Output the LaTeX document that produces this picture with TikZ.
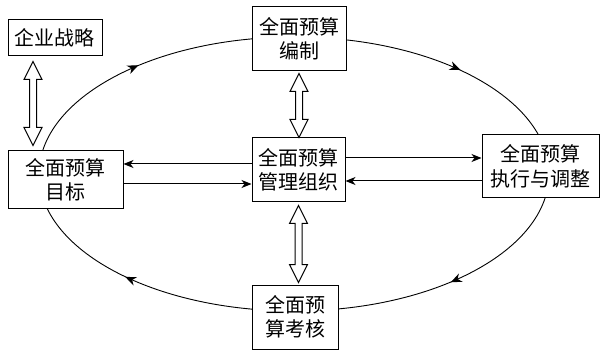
\documentclass[tikz,border=0pt]{standalone}
\usepackage{fontspec}
\setmainfont{Noto Sans CJK SC}
\usepackage{tikz}
\usetikzlibrary{arrows.meta, calc, backgrounds, decorations.markings}
\tikzset{
  box/.style={rectangle, draw=black, line width=1pt, fill=white, align=center, inner sep=1pt, font=\fontsize{20}{24.5}\selectfont},
  arrow/.style={-{Stealth[length=10pt, width=8pt, inset=3pt]}, line width=1pt},
  hollow/.style={draw=black, line width=1pt, fill=white, line join=miter},
}
% hollow double arrow between two stacked nodes
\newcommand{\updown}[2]{%
  \path[hollow] let \p1=(#1), \p2=(#2) in
    (\x1,\y1) -- (\x1+9pt,\y1-18pt) -- (\x1+3.5pt,\y1-18pt) -- (\x1+3.5pt,\y2+18pt)
    -- (\x1+9pt,\y2+18pt) -- (\x1,\y2) -- (\x1-9pt,\y2+18pt) -- (\x1-3.5pt,\y2+18pt)
    -- (\x1-3.5pt,\y1-18pt) -- (\x1-9pt,\y1-18pt) -- cycle;
}

\begin{document}
\begin{tikzpicture}[x=1pt, y=1pt,
  >={Stealth[length=11pt, width=9pt, inset=3.5pt]},
  cycleline/.style={line width=0.9pt, postaction={decorate}, decoration={markings,
    mark=at position 0.123 with {\arrow{<}},
    mark=at position 0.385 with {\arrow{<}},
    mark=at position 0.621 with {\arrow{<}},
    mark=at position 0.886 with {\arrow{<}}}}]
\useasboundingbox (0,0) rectangle (603,354);

% boxes
\node[box, minimum width=94pt, minimum height=36pt] (strategy) at (55,316) {企业战略};
\node[box, minimum width=115pt, minimum height=58pt] (target) at (65.5,174) {全面预算\\目标};
\node[box, minimum width=94pt, minimum height=64pt] (compile) at (299,315) {全面预算\\编制};
\node[box, minimum width=93pt, minimum height=64pt] (org) at (298.5,184) {全面预算\\管理组织};
\node[box, minimum width=117pt, minimum height=63pt] (execute) at (540.5,187.5) {全面预算\\执行与调整};
\node[box, minimum width=86pt, minimum height=64pt] (assess) at (295,37) {全面预\\算考核};

% budget cycle
\coordinate (mid) at (294,180);
\begin{scope}[on background layer]
\draw[cycleline] (mid) ellipse [x radius=255, y radius=137];
\end{scope}

% hollow double arrows
\updown{[xshift=-22pt,yshift=-5pt]strategy.south}{[yshift=5pt]target.north}
\updown{[yshift=-2pt]compile.south}{org.north}
\updown{[yshift=-3pt]org.south}{[yshift=2pt]assess.north}

% flows to and from the organisation
\draw[arrow] ([yshift=6pt]org.west) -- ([yshift=6pt]org.west -| target.east);
\draw[arrow] ([yshift=-14pt]org.west -| target.east) -- ([yshift=-14pt]org.west);
\draw[arrow] ([yshift=12pt]org.east) -- ([yshift=12pt]org.east -| execute.west);
\draw[arrow] ([yshift=-11pt]org.east -| execute.west) -- ([yshift=-11pt]org.east);
\end{tikzpicture}
\end{document}
